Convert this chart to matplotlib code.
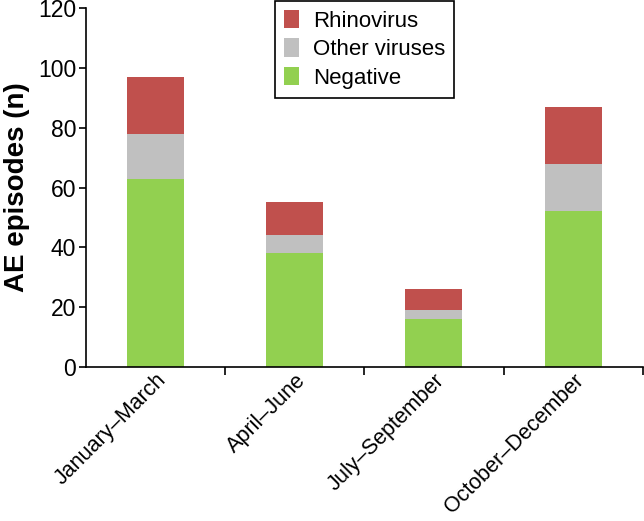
import matplotlib
matplotlib.use("Agg")
import matplotlib.pyplot as plt
import numpy as np

plt.rcParams['font.family'] = ['Liberation Sans', 'DejaVu Sans']

# data
quarters = ["January\u2013March", "April\u2013June", "July\u2013September", "October\u2013December"]
negative = [63, 38, 16, 52]
other_viruses = [15, 6, 3, 16]
rhinovirus = [19, 11, 7, 19]

x = np.arange(len(quarters))
neg = np.array(negative)
oth = np.array(other_viruses)

fig = plt.figure(figsize=(6.44, 5.21), dpi=100)
ax = fig.add_axes([0.1335, 0.2956, 0.8645, 0.689])

w = 0.41
ax.bar(x, neg, w, color="#92D050", label="Negative")
ax.bar(x, oth, w, bottom=neg, color="#C0C0C0", label="Other viruses")
ax.bar(x, rhinovirus, w, bottom=neg + oth, color="#C0504D", label="Rhinovirus")

ax.set_xlim(-0.5, 3.5)
ax.set_ylim(0, 120)
ax.set_yticks(range(0, 121, 20))
ax.tick_params(axis='y', labelsize=16.5, direction='out', length=5, width=1.2, pad=2)

# category labels at the centres, tick marks between categories
ax.set_xticks(x)
ax.set_xticklabels(quarters, rotation=45, ha='right', rotation_mode='anchor', fontsize=15.5)
ax.tick_params(axis='x', which='major', length=0, pad=2)
ax.set_xticks(np.arange(0.5, 4, 1), minor=True)
ax.tick_params(axis='x', which='minor', direction='out', length=6, width=1.2)

ax.spines['top'].set_visible(False)
ax.spines['right'].set_visible(False)
ax.spines['left'].set_linewidth(1.2)
ax.spines['bottom'].set_linewidth(1.2)

ax.set_ylabel("AE episodes (n)", fontsize=20, fontweight='bold', labelpad=6)

handles, labels = ax.get_legend_handles_labels()
leg = fig.legend(handles[::-1], labels[::-1], loc='upper left',
                 bbox_to_anchor=(275 / 644, 1 - 1 / 521), borderaxespad=0,
                 fontsize=16, fancybox=False, framealpha=1, edgecolor='black',
                 handlelength=0.7, handleheight=0.9, handletextpad=0.6,
                 labelspacing=0.3, borderpad=0.4)
leg.get_frame().set_linewidth(1.2)

fig.savefig("out.png", dpi=100)
